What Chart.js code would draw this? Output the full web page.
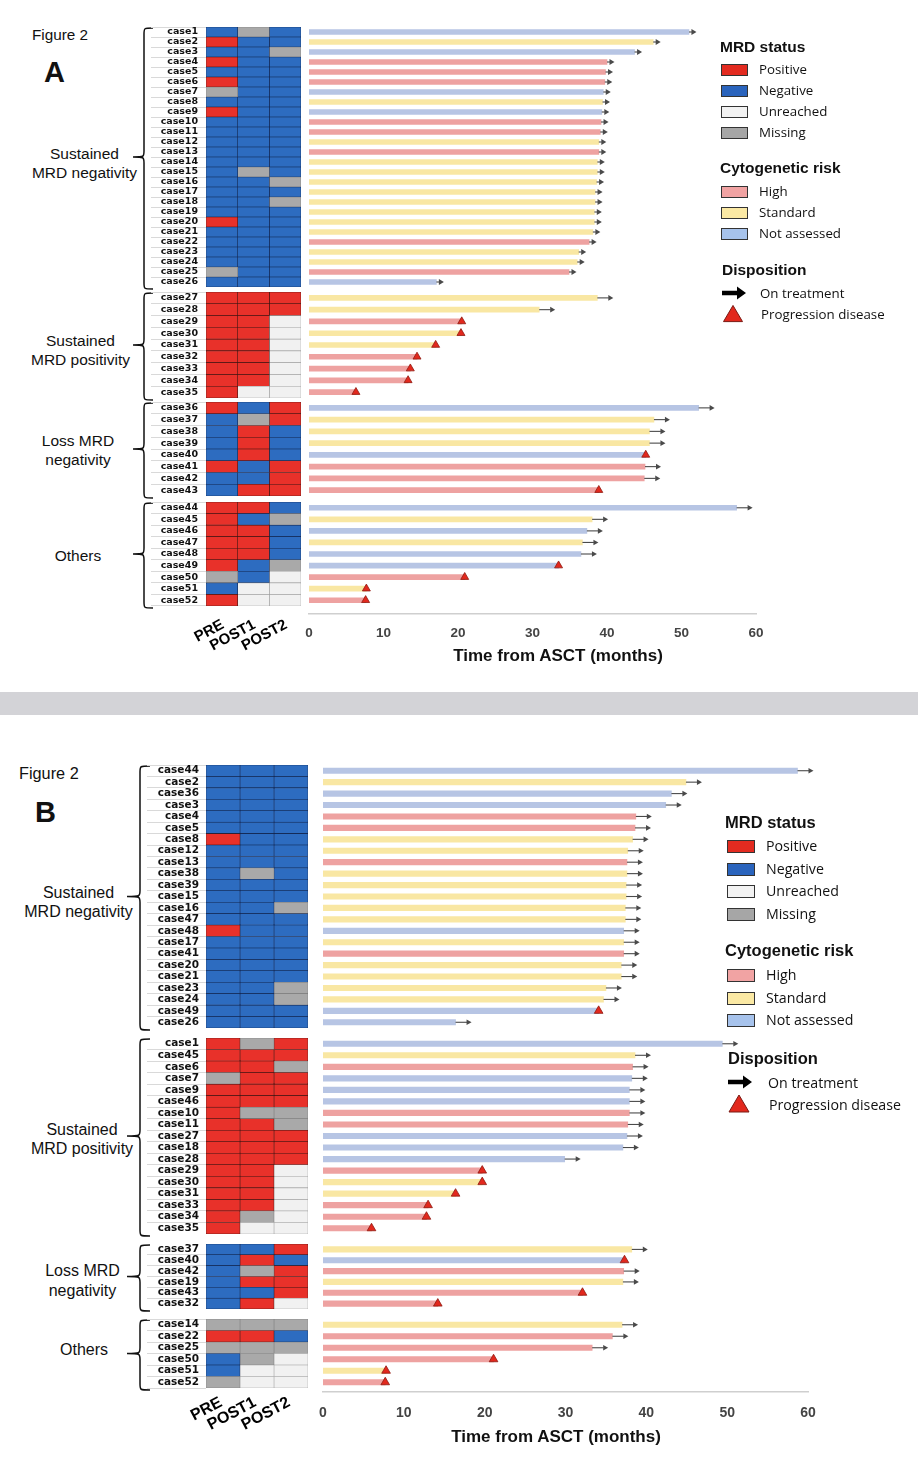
<!DOCTYPE html>
<html>
<head>
<meta charset="utf-8">
<script src="https://cdn.jsdelivr.net/npm/chart.js@4.4.1/dist/chart.umd.min.js"></script>
<style>
  html, body { margin:0; padding:0; background:#fff; }
  #root { position:relative; width:918px; height:1468px; overflow:hidden; background:#fff;
          font-family:'Liberation Sans', Arial, sans-serif; color:#111; }
  #root canvas { position:absolute; }
  .t { position:absolute; white-space:nowrap; line-height:1; transform:translateY(-50%); }
  .c { position:absolute; white-space:nowrap; text-align:center; transform:translate(-50%,-50%); }
  .sw { position:absolute; box-sizing:border-box; border:1px solid #333; }
  .sep { position:absolute; left:0; top:692px; width:918px; height:23px; background:#d3d3d7; }
</style>
</head>
<body>
<div id="root"><div class="sep"></div></div>
<script>
// ---------------- DATA ----------------
const columnLabels = ['PRE', 'POST1', 'POST2'];
const groupNames = [['Sustained', 'MRD negativity'], ['Sustained', 'MRD positivity'], ['Loss MRD', 'negativity'], ['Others']];
const axisTitle = 'Time from ASCT (months)';
const xTickStep = 10;
const xMin = 0, xMax = 60;
// MRD status codes: P positive, N negative, U unreached, M missing  (PRE, POST1, POST2)
// Cytogenetic risk: H high, S standard, N not assessed ; Disposition: T on treatment, P progression

// Panel A
const casesA1 = ['case1','case2','case3','case4','case5','case6','case7','case8','case9','case10','case11','case12','case13','case14','case15','case16','case17','case18','case19','case20','case21','case22','case23','case24','case25','case26'];
const mrdA1 = ['NMN','PNN','NNM','PNN','NNN','PNN','MNN','NNN','PNN','NNN','NNN','NNN','NNN','NNN','NMN','NNM','NNN','NNM','NNN','PNN','NNN','NNN','NNN','NNN','MNN','NNN'];
const timeA1 = [51.0,46.2,43.7,40.0,39.8,39.7,39.5,39.4,39.3,39.2,39.1,38.9,38.9,38.7,38.7,38.6,38.4,38.4,38.3,38.3,38.1,37.6,36.2,36.0,34.9,17.1];
const riskA1 = ['N','S','N','H','H','H','N','S','N','H','H','S','H','S','S','S','S','S','S','S','S','H','S','S','H','N'];
const dispA1 = ['T','T','T','T','T','T','T','T','T','T','T','T','T','T','T','T','T','T','T','T','T','T','T','T','T','T'];

const casesA2 = ['case27','case28','case29','case30','case31','case32','case33','case34','case35'];
const mrdA2 = ['PPP','PPP','PPU','PPU','PPU','PPU','PPU','PPU','PUU'];
const timeA2 = [38.7,30.9,20.5,20.4,17.0,14.5,13.6,13.3,6.3];
const riskA2 = ['S','S','H','S','S','H','H','H','H'];
const dispA2 = ['T','T','P','P','P','P','P','P','P'];

const casesA3 = ['case36','case37','case38','case39','case40','case41','case42','case43'];
const mrdA3 = ['PNP','NMP','NPN','NPN','NPN','PNP','NNP','NPP'];
const timeA3 = [52.3,46.3,45.7,45.7,45.2,45.1,45.0,38.9];
const riskA3 = ['N','S','S','S','N','H','H','H'];
const dispA3 = ['T','T','T','T','P','T','T','P'];

const casesA4 = ['case44','case45','case46','case47','case48','case49','case50','case51','case52'];
const mrdA4 = ['PPN','PNM','PPN','PPN','PPN','PNM','MNU','NUU','PUU'];
const timeA4 = [57.4,38.0,37.3,36.7,36.5,33.5,20.9,7.7,7.6];
const riskA4 = ['N','S','N','S','N','N','H','S','H'];
const dispA4 = ['T','T','T','T','T','P','P','P','P'];

// Panel B
const casesB1 = ['case44','case2','case36','case3','case4','case5','case8','case12','case13','case38','case39','case15','case16','case47','case48','case17','case41','case20','case21','case23','case24','case49','case26'];
const mrdB1 = ['NNN','NNN','NNN','NNN','NNN','NNN','PNN','NNN','NNN','NMN','NNN','NNN','NNM','NNN','PNN','NNN','NNN','NNN','NNN','NNM','NNM','NNN','NNN'];
const timeB1 = [58.7,44.9,43.1,42.4,38.7,38.6,38.3,37.7,37.6,37.6,37.5,37.5,37.4,37.4,37.2,37.2,37.2,36.9,36.9,35.0,34.7,34.1,16.4];
const riskB1 = ['N','S','N','N','H','H','S','S','H','S','S','S','S','S','N','S','H','S','S','S','S','N','N'];
const dispB1 = ['T','T','T','T','T','T','T','T','T','T','T','T','T','T','T','T','T','T','T','T','T','P','T'];

const casesB2 = ['case1','case45','case6','case7','case9','case46','case10','case11','case27','case18','case28','case29','case30','case31','case33','case34','case35'];
const mrdB2 = ['PMP','PPP','PPM','MPP','PPP','PPP','PMM','PPM','PPP','PPP','PPP','PPU','PPU','PPU','PPU','PMU','PUU'];
const timeB2 = [49.4,38.6,38.3,38.2,37.9,37.9,37.9,37.7,37.6,37.1,29.9,19.7,19.7,16.4,13.0,12.8,6.0];
const riskB2 = ['N','S','H','N','N','N','H','H','N','N','N','H','S','S','H','H','H'];
const dispB2 = ['T','T','T','T','T','T','T','T','T','T','T','P','P','P','P','P','P'];

const casesB3 = ['case37','case40','case42','case19','case43','case32'];
const mrdB3 = ['NNP','NPN','NMP','NPP','NNP','NPU'];
const timeB3 = [38.2,37.3,37.2,37.1,32.1,14.2];
const riskB3 = ['S','N','H','S','H','H'];
const dispB3 = ['T','P','T','T','P','P'];

const casesB4 = ['case14','case22','case25','case50','case51','case52'];
const mrdB4 = ['MMM','PPN','MMM','NMU','NUU','MUU'];
const timeB4 = [37.0,35.8,33.3,21.1,7.8,7.7];
const riskB4 = ['S','H','H','H','S','H'];
const dispB4 = ['T','T','T','P','P','P'];

const mrdLegend = ['Positive', 'Negative', 'Unreached', 'Missing'];
const riskLegend = ['High', 'Standard', 'Not assessed'];
const dispLegend = ['On treatment', 'Progression disease'];

// ---------------- STYLES ----------------
const mrdColor = { P:'#e8312a', N:'#2d6cc0', U:'#f1f1f1', M:'#a9a9a9' };
const mrdBorder = { P:'#3b1512', N:'#13244c', U:'#a0a0a0', M:'#7a7a7a' };
const riskColor = { H:'#eea2a1', S:'#f9e7a3', N:'#b7c5e4' };
const legMrd = ['#e32b20', '#2a64bd', '#f2f2f2', '#a6a6a6'];
const legRisk = ['#f1a3a3', '#fbe9a4', '#a7c3ec'];

Chart.defaults.font.family = "'Liberation Sans', Arial, sans-serif";
Chart.defaults.animation = false;

const SW_PAD = 26;
const LAYOUT = {
  A: { tops:[27,292,402,502], rowH:[10,11.75,11.71,11.6], hmLeft:205.5, colW:31.8, lblW:55, lblGap:8,
       swLeft:309, swW:447, barT:5, triR:4.6, arrowLen:[7.5,16,16,16], head:[5,5,5,5], hw:[3,2.8,2.8,2.8],
       extra:8, tickFont:13.5, tickPad:11, caseFont:9.5, hmAxisH:50, colFont:15, colRot:28, colPad:2, colOff:1,
       titleX:558, titleY:655, titleFont:17,
       brace:{x0:153, xs:144, xt:133},
       labelX:[84.5,80.5,78,78], labelY:[162.5,349.5,449.5,555], labelFont:15.5, labelLH:19,
       fig:{x:32,y:35,size:15.3}, letter:{t:'A',x:44,y:72,size:29},
       leg:{hx:720, hSize:15.5, heads:[47,168], dispHX:722, dispHY:270, swX:721, swW:27, swH:12, txtX:759, txtSize:13.3,
            mrdY:[70,91,112,133], riskY:[192,213,234], arrowX:722, arrowW:24, arrowY:293, arrowTX:760,
            triX:733, triY:314, triTX:761, triS:19} },
  B: { tops:[765,1038,1244,1319], rowH:[11.45,11.5,10.8,11.48], hmLeft:206, colW:33.9, lblW:59, lblGap:7,
       swLeft:323, swW:485, barT:5.5, triR:5, arrowLen:[16,16,16,16], head:[5,5,5,5], hw:[2.8,2.8,2.8,2.8],
       extra:4, tickFont:14, tickPad:13, caseFont:10.5, hmAxisH:50, colFont:16, colRot:28, colPad:-3, colOff:-2,
       titleX:556, titleY:1436, titleFont:17,
       brace:{x0:150, xs:140, xt:127},
       labelX:[78.5,82,82.5,84], labelY:[901.5,1138.5,1280,1350], labelFont:16, labelLH:19.5,
       fig:{x:19,y:773,size:16.3}, letter:{t:'B',x:35,y:812,size:29},
       leg:{hx:725, hSize:16.5, heads:[822,950], dispHX:728, dispHY:1058, swX:727, swW:28, swH:13, txtX:766, txtSize:14.2,
            mrdY:[846,869,891,914], riskY:[975,998,1020], arrowX:728, arrowW:24, arrowY:1082, arrowTX:768,
            triX:739, triY:1104, triTX:769, triS:20} }
};

const panelA = { key:'A', groups:[
  {cases:casesA1, mrd:mrdA1, time:timeA1, risk:riskA1, disp:dispA1},
  {cases:casesA2, mrd:mrdA2, time:timeA2, risk:riskA2, disp:dispA2},
  {cases:casesA3, mrd:mrdA3, time:timeA3, risk:riskA3, disp:dispA3},
  {cases:casesA4, mrd:mrdA4, time:timeA4, risk:riskA4, disp:dispA4}]};
const panelB = { key:'B', groups:[
  {cases:casesB1, mrd:mrdB1, time:timeB1, risk:riskB1, disp:dispB1},
  {cases:casesB2, mrd:mrdB2, time:timeB2, risk:riskB2, disp:dispB2},
  {cases:casesB3, mrd:mrdB3, time:timeB3, risk:riskB3, disp:dispB3},
  {cases:casesB4, mrd:mrdB4, time:timeB4, risk:riskB4, disp:dispB4}]};

// ---------------- HELPERS ----------------
const root = document.getElementById('root');
const SVGNS = 'http://www.w3.org/2000/svg';
const svg = document.createElementNS(SVGNS, 'svg');
svg.setAttribute('width', 918); svg.setAttribute('height', 1468);
svg.style.position = 'absolute'; svg.style.left = '0'; svg.style.top = '0'; svg.style.pointerEvents = 'none';
root.appendChild(svg);

function svgEl(tag, attrs) {
  const e = document.createElementNS(SVGNS, tag);
  for (const k in attrs) e.setAttribute(k, attrs[k]);
  svg.appendChild(e); return e;
}
function txt(x, y, s, css) {
  const d = document.createElement('div'); d.className = 't'; d.textContent = s;
  d.style.left = x + 'px'; d.style.top = y + 'px'; Object.assign(d.style, css || {});
  root.appendChild(d); return d;
}
function addCanvas(left, top, w, h) {
  const c = document.createElement('canvas');
  c.width = w; c.height = h;
  c.style.left = left + 'px'; c.style.top = top + 'px';
  c.style.width = w + 'px'; c.style.height = h + 'px';
  root.appendChild(c); return c;
}
function brace(b, y0, y1, ym) {
  const r = 6;
  const d = `M${b.x0},${y0} C${b.xs},${y0} ${b.xs},${y0} ${b.xs},${y0 + r} L${b.xs},${ym - r} C${b.xs},${ym} ${b.xs},${ym} ${b.xt},${ym} ` +
            `M${b.xt},${ym} C${b.xs},${ym} ${b.xs},${ym} ${b.xs},${ym + r} L${b.xs},${y1 - r} C${b.xs},${y1} ${b.xs},${y1} ${b.x0},${y1}`;
  svgEl('path', { d, fill:'none', stroke:'#111', 'stroke-width':1.5 });
}

const arrowPlugin = {
  id: 'onTreatment',
  afterDatasetsDraw(chart, args, o) {
    if (!o || !o.time) return;
    const xs = chart.scales.x, ys = chart.scales.y, ctx = chart.ctx;
    ctx.save();
    ctx.strokeStyle = o.color; ctx.fillStyle = o.color; ctx.lineWidth = 1.1;
    o.time.forEach((v, i) => {
      if (o.disp[i] !== 'T') return;
      const x0 = xs.getPixelForValue(v), y = ys.getPixelForValue(i), x1 = x0 + o.len;
      ctx.beginPath(); ctx.moveTo(x0, y); ctx.lineTo(x1 - o.head + 0.5, y); ctx.stroke();
      ctx.beginPath(); ctx.moveTo(x1, y); ctx.lineTo(x1 - o.head, y - o.hw); ctx.lineTo(x1 - o.head, y + o.hw);
      ctx.closePath(); ctx.fill();
    });
    ctx.restore();
  }
};

function heatChart(cv, g, L, bottom) {
  const datasets = [0, 1, 2].map(c => ({
    label: columnLabels[c],
    data: g.cases.map(() => 1),
    backgroundColor: g.mrd.map(s => mrdColor[s[c]]),
    borderColor: g.mrd.map(s => mrdBorder[s[c]]),
    borderWidth: 0.6,
    borderSkipped: false,
    categoryPercentage: 1,
    barPercentage: 1
  }));
  const xScale = {
    type:'linear', stacked:true, min:0, max:3, display:bottom,
    grid:{ display:false }, border:{ display:false },
    afterBuildTicks: s => { s.ticks = columnLabels.map((_, i) => ({ value: i + 0.5 })); },
    ticks:{ autoSkip:false, minRotation:L.colRot, maxRotation:L.colRot, padding:L.colPad, labelOffset:L.colOff,
            color:'#000', font:{ size:L.colFont, weight:'bold' }, callback:(v, i) => columnLabels[i] }
  };
  if (bottom) xScale.afterFit = s => { s.height = L.hmAxisH; };
  return new Chart(cv, {
    type:'bar',
    data:{ labels:g.cases, datasets },
    options:{
      indexAxis:'y', responsive:false, animation:false, events:[],
      layout:{ autoPadding:false, padding:{ left:0, right:8, top:0, bottom:0 } },
      plugins:{ legend:{ display:false }, tooltip:{ enabled:false } },
      scales:{
        x: xScale,
        y: { type:'category', stacked:true, offset:true,
             grid:{ display:true, offset:true, drawOnChartArea:false, drawTicks:true, tickLength:L.lblW, color:'#d9d9d9', lineWidth:1 },
             border:{ display:false },
             ticks:{ autoSkip:false, padding:L.lblGap - L.lblW, color:'#111', font:{ family:'DejaVu Sans', size:L.caseFont, weight:'bold' } },
             afterFit: s => { s.width = L.lblW; } }
      }
    }
  });
}

function swimChart(cv, g, L, gi, bottom, rowsH, areaH) {
  const n = g.cases.length;
  const yMax = -0.5 + n * areaH / rowsH;
  const bars = g.time.map((v, i) => ({ x:v, y:i }));
  const prog = [];
  g.time.forEach((v, i) => { if (g.disp[i] === 'P') prog.push({ x:v, y:i }); });
  const xScale = {
    type:'linear', min:xMin, max:xMax, display:bottom, offset:false, beginAtZero:false,
    grid:{ display:false, drawTicks:false, offset:false },
    border:{ display:true, color:'#cfcfcf', width:1.5 },
    ticks:{ stepSize:xTickStep, padding:L.tickPad, color:'#444', font:{ size:L.tickFont, weight:'bold' } }
  };
  if (bottom) xScale.afterFit = s => { s.height = 30; };
  return new Chart(cv, {
    type:'bar',
    data:{ datasets:[
      { type:'bar', data:bars, backgroundColor:g.risk.map(r => riskColor[r]), borderWidth:0, barThickness:L.barT, order:2 },
      { type:'scatter', data:prog, pointStyle:'triangle', radius:L.triR, backgroundColor:'#e2281d', borderColor:'#8e1a12', borderWidth:0.8, order:1, clip:false }
    ]},
    options:{
      indexAxis:'y', responsive:false, animation:false, events:[],
      layout:{ autoPadding:false, padding:{ left:SW_PAD, right:SW_PAD, top:0, bottom:0 } },
      plugins:{ legend:{ display:false }, tooltip:{ enabled:false },
                onTreatment:{ time:g.time, disp:g.disp, len:L.arrowLen[gi], head:L.head[gi], hw:L.hw[gi], color:'#4a4a4a' } },
      scales:{
        x:xScale,
        y:{ type:'linear', reverse:true, min:-0.5, max:yMax, display:false, offset:false, beginAtZero:false, grace:0,
            grid:{ offset:false } }
      }
    },
    plugins:[arrowPlugin]
  });
}

function legend(L) {
  const g = L.leg;
  const hcss = { fontWeight:'bold', fontSize:g.hSize + 'px', color:'#111' };
  const icss = { fontFamily:"'Open Sans', sans-serif", fontSize:g.txtSize + 'px', color:'#111' };
  txt(g.hx, g.heads[0], 'MRD status', hcss);
  mrdLegend.forEach((s, i) => {
    const d = document.createElement('div'); d.className = 'sw';
    Object.assign(d.style, { left:g.swX + 'px', top:(g.mrdY[i] - g.swH / 2) + 'px', width:g.swW + 'px', height:g.swH + 'px', background:legMrd[i] });
    root.appendChild(d);
    txt(g.txtX, g.mrdY[i], s, icss);
  });
  txt(g.hx, g.heads[1], 'Cytogenetic risk', hcss);
  riskLegend.forEach((s, i) => {
    const d = document.createElement('div'); d.className = 'sw';
    Object.assign(d.style, { left:g.swX + 'px', top:(g.riskY[i] - g.swH / 2) + 'px', width:g.swW + 'px', height:g.swH + 'px', background:legRisk[i] });
    root.appendChild(d);
    txt(g.txtX, g.riskY[i], s, icss);
  });
  txt(g.dispHX, g.dispHY, 'Disposition', hcss);
  const ax = g.arrowX, ay = g.arrowY, aw = g.arrowW;
  svgEl('path', { d:`M${ax},${ay - 2.2} L${ax + aw - 9},${ay - 2.2} L${ax + aw - 9},${ay - 6.5} L${ax + aw},${ay} L${ax + aw - 9},${ay + 6.5} L${ax + aw - 9},${ay + 2.2} L${ax},${ay + 2.2} Z`, fill:'#000' });
  txt(g.arrowTX, ay + 1, dispLegend[0], icss);
  const s = g.triS, tx = g.triX, ty = g.triY;
  svgEl('path', { d:`M${tx},${ty - s * 0.45} L${tx + s * 0.5},${ty + s * 0.4} L${tx - s * 0.5},${ty + s * 0.4} Z`, fill:'#e2281d', stroke:'#7a1a14', 'stroke-width':1 });
  txt(g.triTX, ty + 1, dispLegend[1], icss);
}

function renderPanel(P) {
  const L = LAYOUT[P.key];
  txt(L.fig.x, L.fig.y, 'Figure 2', { fontSize:L.fig.size + 'px' });
  txt(L.letter.x, L.letter.y, L.letter.t, { fontSize:L.letter.size + 'px', fontWeight:'bold' });
  P.groups.forEach((g, gi) => {
    const n = g.cases.length;
    const top = Math.round(L.tops[gi]);
    const rowsH = Math.round(n * L.rowH[gi]);
    const bottom = gi === P.groups.length - 1;
    const hmW = Math.round(L.lblW + 3 * L.colW + 8);
    const hmH = rowsH + (bottom ? L.hmAxisH : 0);
    heatChart(addCanvas(L.hmLeft - L.lblW, top, hmW, hmH), g, L, bottom);
    const areaH = rowsH + (bottom ? L.extra : 0);
    const swH = areaH + (bottom ? 30 : 0);
    swimChart(addCanvas(L.swLeft - SW_PAD, top, L.swW + 2 * SW_PAD, swH), g, L, gi, bottom, rowsH, areaH);
    brace(L.brace, top + 1, top + rowsH + 2, top + rowsH / 2);
    const d = document.createElement('div'); d.className = 'c';
    d.innerHTML = groupNames[gi].join('<br>');
    Object.assign(d.style, { left:L.labelX[gi] + 'px', top:L.labelY[gi] + 'px', fontSize:L.labelFont + 'px', lineHeight:L.labelLH + 'px' });
    root.appendChild(d);
  });
  const t = document.createElement('div'); t.className = 'c'; t.textContent = axisTitle;
  Object.assign(t.style, { left:L.titleX + 'px', top:L.titleY + 'px', fontSize:L.titleFont + 'px', fontWeight:'bold', lineHeight:'1' });
  root.appendChild(t);
  legend(L);
}

renderPanel(panelA);
renderPanel(panelB);
</script>
</body>
</html>
